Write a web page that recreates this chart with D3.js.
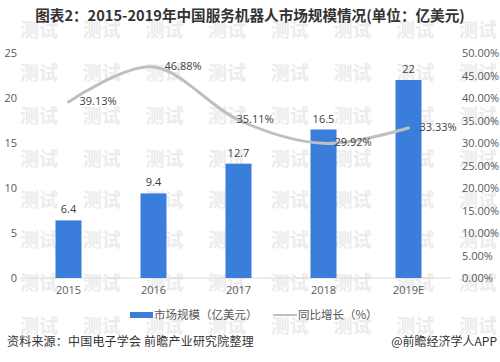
<!DOCTYPE html>
<html>
<head>
<meta charset="utf-8">
<script src="https://cdn.jsdelivr.net/npm/d3@7"></script>
<style>
  body { margin: 0; background: #fff; }
  text { font-family: "Microsoft YaHei", "Noto Sans CJK SC", sans-serif; }
</style>
</head>
<body>
<div id="chart"></div>
<script>
// chart values
var years = ["2015", "2016", "2017", "2018", "2019E"];
var marketSize = [6.4, 9.4, 12.7, 16.5, 22];
var growth = [0.3913, 0.4688, 0.3511, 0.2992, 0.3333];
var leftTicks = [0, 5, 10, 15, 20, 25];
var rightTicks = [0, 0.05, 0.1, 0.15, 0.2, 0.25, 0.3, 0.35, 0.4, 0.45, 0.5];

var width = 500, height = 362;

var svg = d3.select("#chart")
  .append("svg")
  .attr("width", width)
  .attr("height", height);

// watermark grid
var wmRows = [32, 75, 118, 161, 202, 242, 285, 328];
var wm = svg.append("g").attr("class", "watermark");
wmRows.forEach(function(y) {
  for (var i = 0; i < 8; i++) {
    wm.append("text")
      .attr("x", 39 + i * 62.7)
      .attr("y", y)
      .attr("text-anchor", "middle")
      .attr("dominant-baseline", "middle")
      .style("font-size", "19px")
      .style("font-weight", "bold")
      .style("fill", "#ececec")
      .text("测试");
  }
});

var x = d3.scaleBand()
  .domain(years)
  .range([26, 451])
  .paddingInner(0.694)
  .paddingOuter(0.347);

var y = d3.scaleLinear().domain([0, 25]).range([278, 53]);
var y2 = d3.scaleLinear().domain([0, 0.5]).range([278, 53]);

// title
svg.append("text")
  .attr("x", 250)
  .attr("y", 17)
  .attr("text-anchor", "middle")
  .attr("dominant-baseline", "middle")
  .style("font-size", "14.6px")
  .style("font-weight", "bold")
  .style("fill", "#333")
  .text("图表2：2015-2019年中国服务机器人市场规模情况(单位：亿美元)");

// left axis
var leftAxis = svg.append("g")
  .attr("transform", "translate(17,0)")
  .call(d3.axisLeft(y).tickValues(leftTicks).tickSize(0).tickPadding(0));
leftAxis.select(".domain").remove();
leftAxis.selectAll("text").style("font-size", "11px").style("fill", "#595959")
  .style("font-family", "'Open Sans', sans-serif");

// right axis
var rightAxis = svg.append("g")
  .attr("transform", "translate(462,0)")
  .call(d3.axisRight(y2).tickValues(rightTicks).tickFormat(d3.format(".2%")).tickSize(0).tickPadding(0));
rightAxis.select(".domain").remove();
rightAxis.selectAll("text").style("font-size", "11px").style("fill", "#595959")
  .style("font-family", "'Open Sans', sans-serif");

// baseline
svg.append("line")
  .attr("x1", 20).attr("x2", 451)
  .attr("y1", y(0)).attr("y2", y(0))
  .style("stroke", "#d9d9d9")
  .style("stroke-width", 1);

// x labels
svg.selectAll(".xlabel")
  .data(years)
  .enter()
  .append("text")
  .attr("class", "xlabel")
  .attr("x", function(d) { return x(d) + x.bandwidth() / 2; })
  .attr("y", 291)
  .attr("text-anchor", "middle")
  .attr("dominant-baseline", "middle")
  .style("font-size", "11px")
  .style("fill", "#595959")
  .style("font-family", "'Open Sans', sans-serif")
  .text(function(d) { return d; });

// bars
svg.selectAll(".bar")
  .data(marketSize)
  .enter()
  .append("rect")
  .attr("class", "bar")
  .attr("x", function(d, i) { return x(years[i]); })
  .attr("y", function(d) { return y(d); })
  .attr("width", x.bandwidth())
  .attr("height", function(d) { return y(0) - y(d); })
  .style("fill", "#3b7ddb");

svg.selectAll(".barlabel")
  .data(marketSize)
  .enter()
  .append("text")
  .attr("class", "barlabel")
  .attr("x", function(d, i) { return x(years[i]) + x.bandwidth() / 2; })
  .attr("y", function(d) { return y(d) - 7; })
  .attr("text-anchor", "middle")
  .style("font-size", "11px")
  .style("fill", "#404040")
  .style("font-family", "'Open Sans', sans-serif")
  .text(function(d) { return d; });

// growth line
var line = d3.line()
  .x(function(d, i) { return x(years[i]) + x.bandwidth() / 2; })
  .y(function(d) { return y2(d); })
  .curve(d3.curveCatmullRom.alpha(0));

svg.append("path")
  .datum(growth)
  .attr("d", line)
  .style("fill", "none")
  .style("stroke", "#bfbfbf")
  .style("stroke-width", 3)
  .style("stroke-linecap", "round");

svg.selectAll(".linelabel")
  .data(growth)
  .enter()
  .append("text")
  .attr("class", "linelabel")
  .attr("x", function(d, i) {
    var cx = x(years[i]) + x.bandwidth() / 2;
    return i == 2 ? cx - 2 : cx + 11;
  })
  .attr("y", function(d) { return y2(d); })
  .attr("dominant-baseline", "middle")
  .style("font-size", "11px")
  .style("fill", "#404040")
  .style("font-family", "'Open Sans', sans-serif")
  .text(function(d) { return d3.format(".2%")(d); });

// legend
var legend = svg.append("g");
legend.append("rect")
  .attr("x", 130).attr("y", 312)
  .attr("width", 23).attr("height", 6)
  .style("fill", "#3b7ddb");
legend.append("text")
  .attr("x", 154).attr("y", 316)
  .attr("dominant-baseline", "middle")
  .style("font-size", "11.5px")
  .style("fill", "#595959")
  .text("市场规模（亿美元）");
legend.append("line")
  .attr("x1", 273).attr("x2", 297)
  .attr("y1", 315).attr("y2", 315)
  .style("stroke", "#bfbfbf")
  .style("stroke-width", 2);
legend.append("text")
  .attr("x", 298).attr("y", 316)
  .attr("dominant-baseline", "middle")
  .style("font-size", "11.5px")
  .style("fill", "#595959")
  .text("同比增长（%）");

// source
svg.append("text")
  .attr("x", 7).attr("y", 343)
  .attr("dominant-baseline", "middle")
  .style("font-size", "12px")
  .style("letter-spacing", "0.2px")
  .style("fill", "#333")
  .text("资料来源：中国电子学会 前瞻产业研究院整理");
svg.append("text")
  .attr("x", 497).attr("y", 343)
  .attr("text-anchor", "end")
  .attr("dominant-baseline", "middle")
  .style("font-size", "12px")
  .style("fill", "#333")
  .text("@前瞻经济学人APP");
</script>
</body>
</html>
